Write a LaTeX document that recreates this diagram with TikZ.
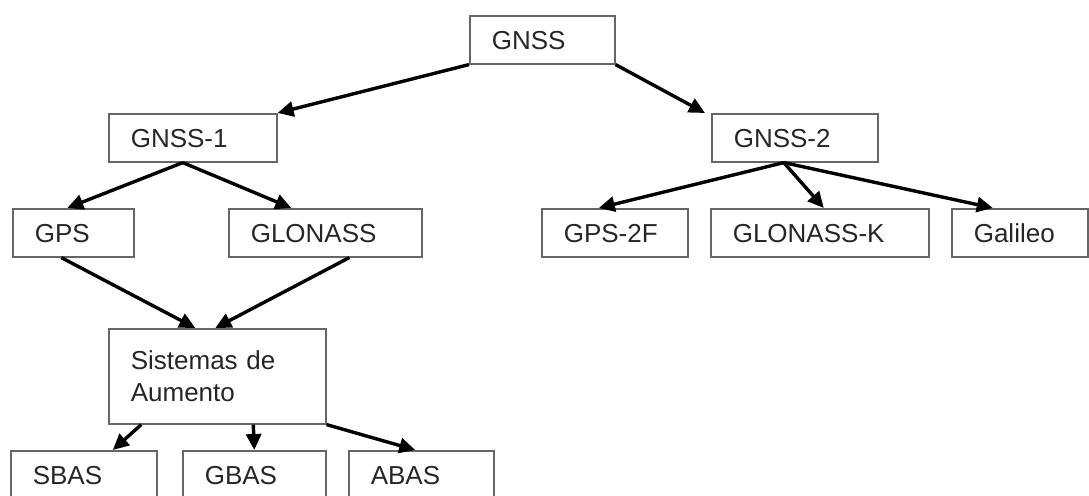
\documentclass[tikz,border=0pt]{standalone}
\usepackage{fontspec}
\setmainfont{Liberation Sans}
\usepackage{tikz}
\usetikzlibrary{arrows.meta,calc}

\begin{document}
\begin{tikzpicture}[
  x=0.5pt, y=-0.5pt,
  font=\fontsize{13}{16}\selectfont,
  tall/.style={draw=black!60, line width=.8pt, anchor=north west, minimum height=24pt,
              inner xsep=11pt, inner ysep=0pt, text width=#1, align=left, text=black!85},
  sys/.style={tall=#1, text height=11pt, text depth=1pt},
  link/.style={-{Triangle[length=8pt,width=7.5pt]}, line width=1.7pt}
]
  \useasboundingbox (0,0) rectangle (1089,496);
  \node[sys=50.5pt] (gnss) at (469,15) {GNSS};
  \node[sys=62pt] (gnssone) at (108,113) {GNSS-1};
  \node[sys=61pt] (gnsstwo) at (711,113) {GNSS-2};
  \node[sys=38.5pt] (gps) at (12,208) {GPS};
  \node[sys=74.5pt] (glonass) at (228,208) {GLONASS};
  \node[sys=51pt] (gpsf) at (541,208) {GPS-2F};
  \node[sys=87pt] (glonassk) at (710,208) {GLONASS-K};
  \node[sys=46pt] (galileo) at (951,208) {Galileo};
  \node[tall=86.5pt, minimum height=47.5pt, inner ysep=2pt] (aumento) at (108,328) {Sistemas de\\Aumento\\[2pt]};
  \node[sys=51pt] (sbas) at (10,450) {SBAS};
  \node[sys=49.5pt] (gbas) at (182,450) {GBAS};
  \node[sys=50.5pt] (abas) at (348,450) {ABAS};
  \draw[link] (gnss.south west) -- (gnssone.north east);
  \draw[link] (gnss.south east) -- ([xshift=-3pt]gnsstwo.north west);
  \draw[link] ([xshift=-5pt]gnssone.south) -- ([xshift=-3pt]gps.north);
  \draw[link] ([xshift=-5pt]gnssone.south) -- ([xshift=-17pt]glonass.north);
  \draw[link] ([xshift=-5.5pt]gnsstwo.south) -- ([xshift=-8pt]gpsf.north);
  \draw[link] ([xshift=-5.5pt]gnsstwo.south) -- ([xshift=2pt]glonassk.north);
  \draw[link] ([xshift=-5.5pt]gnsstwo.south) -- ([xshift=-13.5pt]galileo.north);
  \draw[link] ([xshift=-6pt]gps.south) -- ([xshift=-11pt]aumento.north);
  \draw[link] ([xshift=12pt]glonass.south) -- ([xshift=-1pt]aumento.north);
  \draw[link] ([xshift=-38pt]aumento.south) -- ([xshift=14.5pt]sbas.north);
  \draw[link] ([xshift=18pt]aumento.south) -- ([xshift=0pt]gbas.north);
  \draw[link] (aumento.south east) -- ([xshift=-3pt]abas.north);
\end{tikzpicture}
\end{document}
